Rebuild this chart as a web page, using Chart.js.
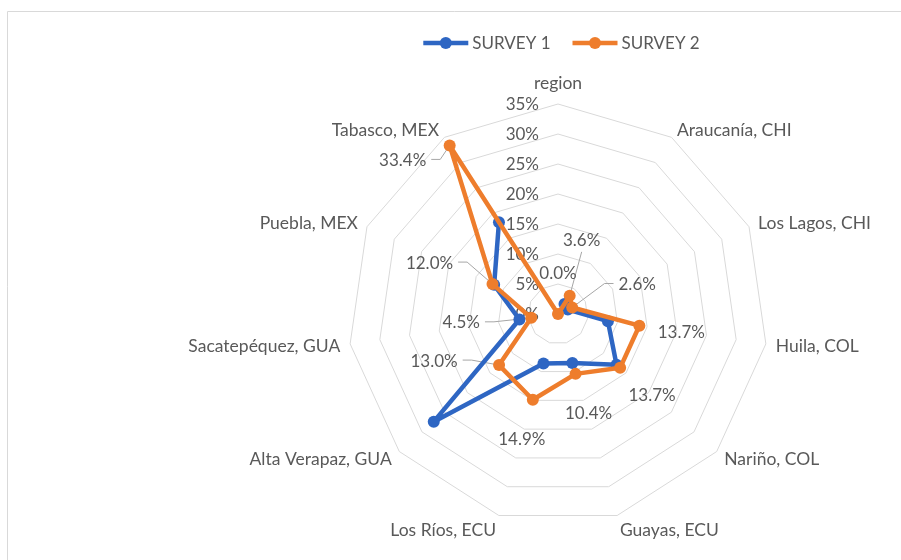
<!DOCTYPE html>
<html><head><meta charset="utf-8">
<script src="https://cdn.jsdelivr.net/npm/chart.js@4/dist/chart.umd.min.js"></script>
<style>html,body{margin:0;padding:0;background:#fff}canvas{display:block}</style>
</head><body>
<canvas id="c" width="901" height="560"></canvas>
<script>
const categories = ['region','Araucanía, CHI','Los Lagos, CHI','Huila, COL','Nariño, COL','Guayas, ECU','Los Ríos, ECU','Alta Verapaz, GUA','Sacatepéquez, GUA','Puebla, MEX','Tabasco, MEX'];
const survey1 = [null, 2.0, 1.8, 8.4, 12.9, 8.5, 8.6, 27.4, 6.5, 11.7, 18.2];
const survey2 = [0.0, 3.6, 2.6, 13.7, 13.7, 10.4, 14.9, 13.0, 4.5, 12.0, 33.4];
const tickValues = [0, 5, 10, 15, 20, 25, 30, 35];
const seriesNames = ['SURVEY 1', 'SURVEY 2'];

const BLUE = '#2E66C3';
const ORANGE = '#EE7D2C';
const TEXT = '#595959';
const FONT = '17px Lato';
const CAT_FONT = '17.5px Lato';

// label placement for survey 2 data labels (offsets from the point, in px)
const s2LabelPlacement = [
  {dx: 0, dy: -41},
  {dx: 12, dy: -56, leader: 'bottom'},
  {dx: 65, dy: -24, leader: 'left'},
  {dx: 42, dy: 6},
  {dx: 32, dy: 27},
  {dx: 13, dy: 39},
  {dx: -11, dy: 39},
  {dx: -65, dy: -5, leader: 'right'},
  {dx: -70, dy: 4, leader: 'right'},
  {dx: -63, dy: -22, leader: 'right'},
  {dx: -47, dy: 14, leader: 'right'}
];

const decor = {
  id: 'decor',
  beforeDraw(chart) {
    const ctx = chart.ctx;
    ctx.save();
    ctx.strokeStyle = '#d9d9d9';
    ctx.lineWidth = 1;
    ctx.beginPath();
    ctx.moveTo(7.5, 600); ctx.lineTo(7.5, 11.5); ctx.lineTo(950, 11.5);
    ctx.stroke();
    ctx.restore();
  },
  beforeDatasetsDraw(chart) {
    const ctx = chart.ctx;
    const s = chart.scales.r;
    ctx.save();
    ctx.font = FONT;
    ctx.fillStyle = TEXT;
    // tick labels, right aligned, left of the vertical axis
    ctx.textAlign = 'right';
    ctx.textBaseline = 'middle';
    tickValues.forEach(v => {
      const d = s.getDistanceFromCenterForValue(v);
      ctx.fillText(v + '%', s.xCenter - 19, s.yCenter - d + 1);
    });
    // category labels
    ctx.font = CAT_FONT;
    categories.forEach((lab, i) => {
      const ang = s.getIndexAngle(i);
      const sin = Math.sin(ang);
      let pad = 10;
      if (Math.abs(sin) < 0.05) pad = 22;
      const p = s.getPointPosition(i, s.drawingArea + pad);
      if (Math.abs(sin) < 0.05) ctx.textAlign = 'center';
      else ctx.textAlign = sin > 0 ? 'left' : 'right';
      const dy = -Math.cos(ang);
      const yAdj = dy > 0.9 ? 4 : 0;
      ctx.fillText(lab, p.x, p.y + 1 + yAdj);
    });
    ctx.font = FONT;
    // leader lines for survey 2 labels
    const meta = chart.getDatasetMeta(1);
    ctx.strokeStyle = '#A6A6A6';
    ctx.lineWidth = 1;
    meta.data.forEach((pt, i) => {
      const pl = s2LabelPlacement[i];
      if (!pl.leader) return;
      const txt = survey2[i].toFixed(1) + '%';
      const w = ctx.measureText(txt).width;
      const cx = pt.x + pl.dx, cy = pt.y + pl.dy;
      ctx.beginPath();
      if (pl.leader === 'right') {
        const x0 = cx + w / 2 + 5;
        ctx.moveTo(x0, cy); ctx.lineTo(x0 + 9, cy); ctx.lineTo(pt.x, pt.y);
      } else if (pl.leader === 'left') {
        const x0 = cx - w / 2 - 5;
        ctx.moveTo(x0, cy); ctx.lineTo(x0 - 9, cy); ctx.lineTo(pt.x, pt.y);
      } else {
        ctx.moveTo(cx, cy + 12); ctx.lineTo(pt.x, pt.y);
      }
      ctx.stroke();
    });
    ctx.restore();
  },
  afterDatasetsDraw(chart) {
    const ctx = chart.ctx;
    const meta = chart.getDatasetMeta(1);
    ctx.save();
    ctx.font = FONT;
    ctx.fillStyle = TEXT;
    ctx.textAlign = 'center';
    ctx.textBaseline = 'middle';
    meta.data.forEach((pt, i) => {
      const pl = s2LabelPlacement[i];
      ctx.fillText(survey2[i].toFixed(1) + '%', pt.x + pl.dx, pt.y + pl.dy + 1);
    });
    // legend
    const colors = [BLUE, ORANGE];
    const lineLen = 45, gapTxt = 4, gapItem = 22;
    const widths = seriesNames.map(n => ctx.measureText(n).width);
    let total = 0;
    widths.forEach((w, i) => { total += lineLen + gapTxt + w + (i ? gapItem : 0); });
    let x = 561.5 - total / 2;
    const y = 43;
    ctx.textAlign = 'left';
    seriesNames.forEach((n, i) => {
      ctx.strokeStyle = colors[i];
      ctx.lineWidth = 4.5;
      ctx.beginPath(); ctx.moveTo(x, y); ctx.lineTo(x + lineLen, y); ctx.stroke();
      ctx.fillStyle = colors[i];
      ctx.beginPath(); ctx.arc(x + lineLen / 2, y, 6, 0, Math.PI * 2); ctx.fill();
      ctx.fillStyle = TEXT;
      ctx.fillText(n, x + lineLen + gapTxt, y + 1);
      x += lineLen + gapTxt + widths[i] + gapItem;
    });
    ctx.restore();
  }
};

new Chart(document.getElementById('c'), {
  type: 'radar',
  data: {
    labels: categories,
    datasets: [
      { label: seriesNames[0], data: survey1, borderColor: BLUE, backgroundColor: BLUE,
        pointBackgroundColor: BLUE, pointBorderColor: BLUE, borderWidth: 4.5, pointRadius: 6,
        pointBorderWidth: 0, fill: false, spanGaps: false, order: 2,
        borderJoinStyle: 'round', borderCapStyle: 'round' },
      { label: seriesNames[1], data: survey2, borderColor: ORANGE, backgroundColor: ORANGE,
        pointBackgroundColor: ORANGE, pointBorderColor: ORANGE, borderWidth: 4.5, pointRadius: 6,
        pointBorderWidth: 0, fill: false, spanGaps: false, order: 1,
        borderJoinStyle: 'round', borderCapStyle: 'round' }
    ]
  },
  options: {
    responsive: false,
    animation: false,
    events: [],
    layout: { padding: { top: 104, bottom: 36, left: 348, right: 133 } },
    plugins: { legend: { display: false }, tooltip: { enabled: false } },
    scales: {
      r: {
        min: 0, max: 35,
        ticks: { stepSize: 5, display: false },
        grid: { color: '#d9d9d9', lineWidth: 1 },
        angleLines: { display: false },
        pointLabels: { display: false }
      }
    }
  },
  plugins: [decor]
});
</script>
</body></html>
